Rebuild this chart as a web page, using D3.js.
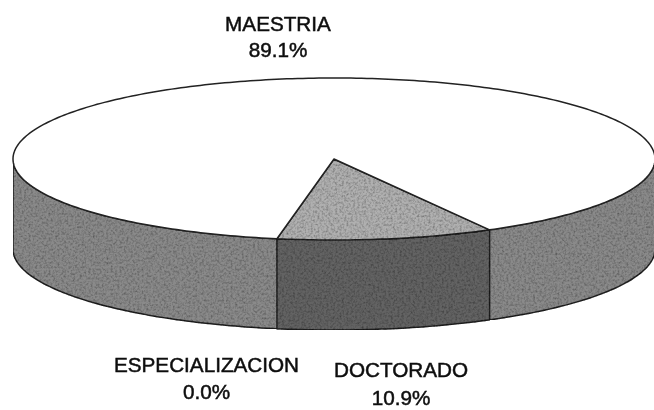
<!DOCTYPE html>
<html>
<head>
<meta charset="utf-8">
<script src="https://cdn.jsdelivr.net/npm/d3@7"></script>
<style>
  html, body { margin: 0; padding: 0; background: #fff; }
  svg { display: block; }
  text { font-family: "Liberation Sans", Arial, sans-serif; font-size: 20.7px; fill: #111; stroke: #111; stroke-width: 0.5px; text-anchor: middle; }
</style>
</head>
<body>
<svg id="chart" width="654" height="410"></svg>
<script>
// clockwise from the front of the disc
var categories = ["DOCTORADO", "MAESTRIA", "ESPECIALIZACION"];
var percents = [10.9, 89.1, 0.0];

var width = 654, height = 410;
var cx = 334, cy = 159, rx = 321, ry = 81, depth = 90;

// where each label sits, same order as categories
var labelPos = [
  { x: 401, y: 377, gap: 28 },
  { x: 278, y: 31, gap: 26 },
  { x: 206.5, y: 372, gap: 27 }
];

var topFill = ["#b0b0b0", "#ffffff", "#ffffff"];
var wallFill = ["#646464", "#8a8a8a", "#8a8a8a"];
var stroke = "#222";

var svg = d3.select("#chart");

/* grainy scan look for the grey areas */
var defs = svg.append("defs");
var grain = defs.append("filter")
  .attr("id", "grain")
  .attr("x", 0).attr("y", 0).attr("width", 1).attr("height", 1);
grain.append("feTurbulence")
  .attr("type", "fractalNoise")
  .attr("baseFrequency", 0.45)
  .attr("numOctaves", 3)
  .attr("seed", 4)
  .attr("result", "noise");
grain.append("feColorMatrix")
  .attr("in", "noise")
  .attr("type", "matrix")
  .attr("values", "0 0 0 0 0  0 0 0 0 0  0 0 0 0 0  1.1 0 0 0 -0.42")
  .attr("result", "speck");
grain.append("feComposite")
  .attr("in", "speck")
  .attr("in2", "SourceGraphic")
  .attr("operator", "in")
  .attr("result", "speckIn");
grain.append("feMerge").selectAll("feMergeNode")
  .data(["SourceGraphic", "speckIn"])
  .enter().append("feMergeNode")
  .attr("in", function(d) { return d; });

// everything is a little soft in the scan
defs.append("filter")
  .attr("id", "soft")
  .attr("filterUnits", "userSpaceOnUse")
  .attr("x", 0).attr("y", 0).attr("width", width).attr("height", height)
  .append("feGaussianBlur")
  .attr("stdDeviation", 0.45);

var root = svg.append("g").attr("filter", "url(#soft)");

var pie = d3.pie()
  .sort(null)
  .startAngle(151 * Math.PI / 180)
  .endAngle((151 + 360) * Math.PI / 180);
var slices = pie(percents);

// angle measured clockwise from the top of the ellipse
function px(a) { return cx + rx * Math.sin(a); }
function py(a) { return cy - ry * Math.cos(a); }
var line = d3.line();

function arcPoints(a0, a1, dy) {
  var n = Math.max(2, Math.ceil(Math.abs(a1 - a0) * 60));
  return d3.range(n + 1).map(function(i) {
    var a = a0 + (a1 - a0) * i / n;
    return [px(a), py(a) + dy];
  });
}

// only the part of a slice between 90 and 270 degrees faces the viewer
function wallRanges(s) {
  var front0 = Math.PI / 2, front1 = 3 * Math.PI / 2, out = [];
  [0, 2 * Math.PI].forEach(function(k) {
    var a0 = Math.max(s.startAngle, front0 + k);
    var a1 = Math.min(s.endAngle, front1 + k);
    if (a1 > a0) out.push([a0, a1]);
  });
  return out;
}

var walls = root.append("g").attr("class", "walls");
slices.forEach(function(s, i) {
  wallRanges(s).forEach(function(r) {
    var pts = arcPoints(r[0], r[1], 0).concat(arcPoints(r[1], r[0], depth));
    walls.append("path")
      .attr("d", line(pts) + "Z")
      .attr("fill", wallFill[i])
      .attr("stroke", stroke)
      .attr("stroke-width", 1.5)
      .attr("stroke-linejoin", "round")
      .attr("filter", "url(#grain)");
  });
});

var tops = root.append("g").attr("class", "tops");
slices.forEach(function(s, i) {
  if (s.endAngle - s.startAngle <= 0) return;
  var pts = [[cx, cy]].concat(arcPoints(s.startAngle, s.endAngle, 0));
  tops.append("path")
    .attr("d", line(pts) + "Z")
    .attr("fill", topFill[i])
    .attr("stroke", stroke)
    .attr("stroke-width", 1.5)
    .attr("stroke-linejoin", "round")
    .attr("filter", i === 0 ? "url(#grain)" : null);
});

var labels = root.append("g").attr("class", "labels");
categories.forEach(function(c, i) {
  labels.append("text")
    .attr("x", labelPos[i].x)
    .attr("y", labelPos[i].y)
    .text(c);
  labels.append("text")
    .attr("x", labelPos[i].x)
    .attr("y", labelPos[i].y + labelPos[i].gap)
    .text(d3.format(".1f")(percents[i]) + "%");
});
</script>
</body>
</html>
